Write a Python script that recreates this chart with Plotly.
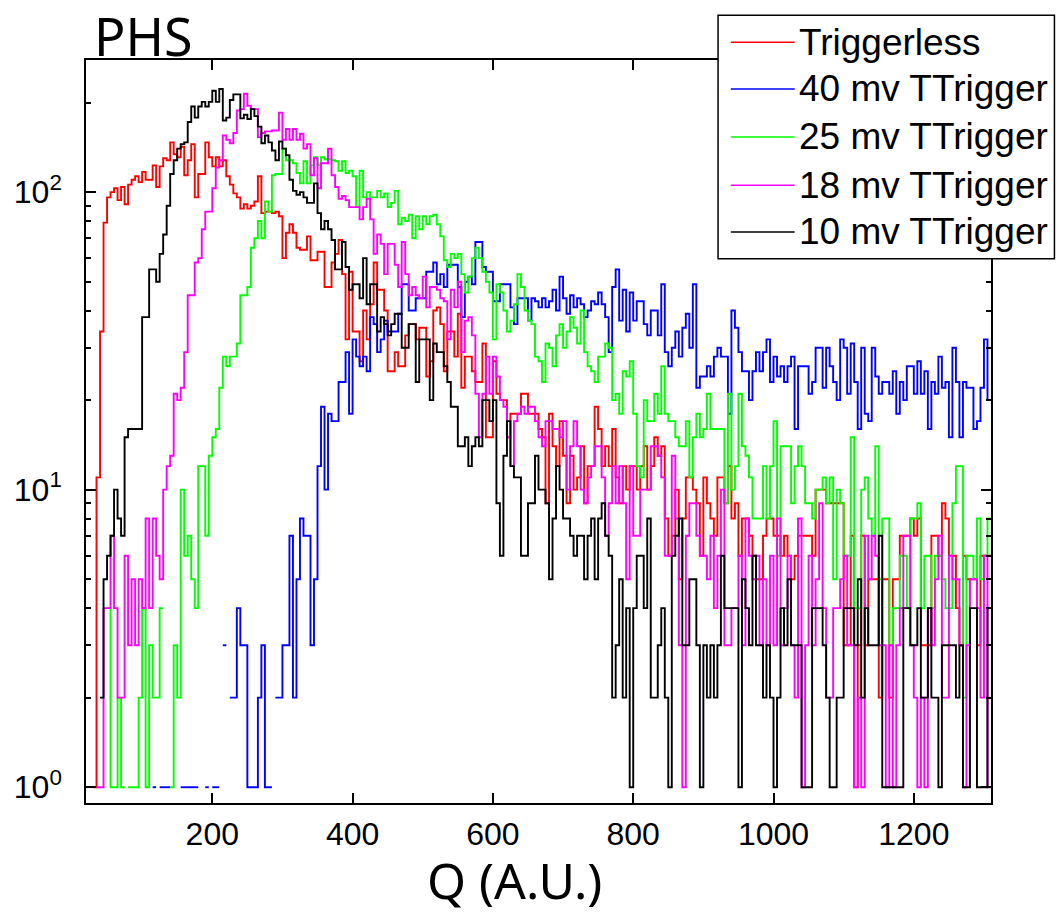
import plotly.graph_objects as go

# ---------------- data (counts per 5-unit bin, first bin starts at Q = 20) ----------------
bin_start = 20
bin_width = 5

triggerless = [
    0, 0, 1, 11, 34, 79, 96, 100, 103, 94,
    104, 91, 106, 110, 113, 108, 117, 110, 110, 123,
    104, 122, 130, 128, 147, 134, 131, 142, 114, 128,
    145, 96, 115, 115, 147, 131, 122, 131, 122, 128,
    113, 106, 99, 96, 88, 91, 88, 90, 93, 113,
    85, 86, 86, 85, 86, 83, 60, 73, 78, 73,
    65, 64, 64, 71, 59, 59, 63, 63, 48, 48,
    58, 62, 69, 53, 32, 54, 34, 34, 27, 40,
    32, 42, 58, 47, 47, 40, 25, 25, 29, 26,
    26, 33, 36, 36, 32, 35, 35, 24, 27, 40,
    41, 36, 25, 34, 34, 28, 39, 22, 28, 28,
    25, 23, 23, 31, 15, 15, 27, 21, 20, 20,
    15, 18, 18, 18, 21, 21, 18, 18, 18, 16,
    15, 9, 18, 14, 12, 17, 13, 9, 13, 10,
    11, 14, 9, 12, 12, 19, 16, 12, 14, 12,
    16, 11, 9, 12, 10, 12, 12, 10, 12, 14,
    10, 12, 15, 13, 14, 8, 6, 7, 10, 5,
    8, 11, 11, 10, 9, 6, 11, 9, 8, 7,
    11, 11, 9, 12, 8, 9, 6, 8, 8, 7,
    6, 5, 5, 7, 8, 8, 7, 7, 6, 7,
    6, 5, 6, 7, 7, 7, 7, 6, 10, 10,
    10, 9, 9, 9, 9, 9, 3, 3, 7, 1,
    3, 7, 3, 5, 5, 5, 2, 5, 5, 2,
    5, 5, 7, 7, 7, 8, 7, 8, 3, 3,
    3, 7, 7, 6, 9, 8, 6, 6, 4, 3,
    6, 5, 5, 5, 3, 6, 6, 6,
]

trig_40mv = [
    0, 0, 0, 0, 0, 0, 0, 0, 0, 0,
    0, 0, 0, 0, 0, 0, 0, 0, 0, 1,
    0, 1, 1, 1, 0, 0, 0, 1, 1, 1,
    1, 1, 0, 0, 1, 0, 1, 1, 0, 3,
    0, 2, 2, 4, 3, 3, 1, 1, 1, 2,
    3, 1, 1, 0, 2, 2, 3, 3, 7, 2,
    5, 8, 7, 7, 3, 5, 12, 19, 10, 18,
    17, 17, 23, 23, 29, 18, 32, 28, 26, 28,
    25, 38, 36, 29, 32, 37, 34, 34, 34, 39,
    49, 49, 40, 40, 44, 44, 44, 54, 54, 58,
    49, 53, 48, 57, 57, 57, 48, 38, 50, 52,
    49, 68, 68, 56, 54, 54, 43, 43, 49, 49,
    49, 41, 36, 44, 44, 44, 37, 44, 43, 41,
    44, 41, 43, 47, 40, 52, 44, 39, 45, 41,
    44, 42, 38, 40, 43, 42, 46, 42, 38, 29,
    48, 55, 37, 47, 34, 46, 37, 43, 43, 36,
    33, 40, 40, 33, 49, 29, 26, 30, 34, 28,
    35, 39, 30, 49, 22, 24, 24, 26, 24, 28,
    30, 28, 28, 18, 40, 35, 29, 25, 25, 20,
    25, 29, 25, 29, 32, 23, 28, 24, 26, 23,
    26, 28, 16, 26, 26, 26, 21, 23, 30, 30,
    22, 30, 26, 23, 20, 32, 30, 21, 31, 23,
    16, 30, 18, 17, 30, 24, 21, 23, 23, 21,
    25, 18, 23, 20, 26, 26, 21, 27, 21, 25,
    16, 23, 21, 28, 22, 23, 15, 30, 23, 15,
    23, 22, 22, 16, 17, 22, 32, 20,
]

trig_25mv = [
    0, 0, 0, 0, 0, 0, 4, 1, 1, 2,
    1, 0, 1, 1, 1, 2, 4, 1, 3, 2,
    2, 4, 0, 0, 1, 3, 2, 10, 6, 7,
    5, 4, 12, 12, 7, 13, 15, 16, 22, 28,
    26, 28, 28, 31, 45, 45, 48, 65, 70, 80,
    70, 93, 86, 114, 115, 115, 140, 128, 128, 125,
    116, 107, 127, 107, 123, 131, 123, 131, 129, 129,
    128, 127, 118, 127, 116, 118, 113, 89, 118, 96,
    100, 96, 96, 101, 96, 99, 89, 92, 101, 78,
    82, 80, 84, 70, 83, 75, 83, 78, 83, 84,
    78, 71, 59, 56, 62, 60, 62, 53, 46, 52,
    60, 65, 60, 54, 50, 46, 32, 49, 46, 40,
    34, 37, 42, 53, 48, 40, 37, 36, 28, 27,
    23, 31, 30, 26, 33, 36, 30, 34, 38, 35,
    31, 40, 29, 26, 25, 23, 28, 28, 31, 30,
    20, 21, 18, 25, 24, 27, 18, 12, 11, 20,
    17, 17, 21, 18, 26, 18, 17, 17, 15, 14,
    14, 17, 11, 15, 18, 15, 16, 21, 16, 16,
    16, 16, 9, 21, 10, 12, 21, 14, 13, 11,
    8, 8, 8, 12, 8, 12, 17, 6, 14, 14,
    14, 9, 12, 14, 12, 9, 9, 8, 10, 10,
    11, 9, 11, 5, 10, 9, 6, 6, 15, 4,
    4, 10, 11, 8, 7, 14, 5, 8, 8, 3,
    4, 4, 6, 6, 4, 8, 8, 9, 4, 6,
    6, 4, 6, 6, 5, 4, 4, 9, 12, 12,
    2, 6, 6, 5, 8, 5, 6, 8,
]

trig_18mv = [
    0, 0, 0, 1, 1, 4, 4, 7, 4, 2,
    2, 6, 3, 5, 3, 5, 4, 8, 4, 8,
    6, 5, 10, 12, 13, 21, 20, 22, 29, 45,
    45, 58, 60, 75, 86, 86, 103, 121, 128, 155,
    150, 146, 158, 188, 190, 214, 195, 190, 190, 153,
    158, 160, 160, 161, 161, 185, 150, 163, 150, 163,
    150, 157, 140, 145, 114, 130, 103, 125, 125, 140,
    114, 104, 95, 97, 94, 89, 89, 89, 81, 89,
    95, 81, 62, 72, 67, 53, 67, 67, 57, 48,
    68, 53, 45, 48, 45, 44, 52, 41, 48, 48,
    47, 44, 43, 32, 47, 41, 50, 29, 37, 38,
    33, 21, 15, 21, 28, 21, 28, 24, 20, 19,
    15, 12, 17, 18, 19, 18, 19, 19, 17, 15,
    14, 17, 17, 16, 16, 15, 17, 10, 14, 17,
    14, 10, 9, 11, 12, 14, 14, 11, 7, 9,
    12, 9, 12, 9, 5, 12, 7, 7, 10, 10,
    10, 14, 14, 13, 11, 6, 6, 13, 8, 3,
    1, 7, 9, 9, 7, 6, 6, 5, 7, 4,
    6, 10, 3, 3, 4, 4, 6, 3, 8, 6,
    5, 6, 3, 5, 3, 6, 3, 8, 3, 4,
    6, 3, 2, 8, 1, 3, 6, 3, 5, 9,
    4, 2, 2, 4, 4, 5, 6, 3, 3, 1,
    2, 1, 7, 5, 7, 6, 3, 3, 1, 3,
    1, 3, 4, 7, 7, 3, 2, 1, 2, 1,
    4, 3, 5, 7, 2, 2, 6, 5, 5, 3,
    1, 3, 5, 5, 4, 2, 6, 1,
]

trig_10mv = [
    0, 0, 0, 0, 2, 5, 6, 7, 10, 8,
    7, 15, 16, 16, 16, 16, 38, 38, 55, 55,
    50, 62, 72, 90, 115, 128, 140, 145, 147, 172,
    194, 178, 194, 201, 194, 201, 219, 201, 222, 174,
    178, 204, 213, 213, 177, 182, 176, 190, 180, 166,
    146, 155, 147, 138, 128, 148, 140, 133, 110, 101,
    98, 100, 96, 92, 92, 107, 85, 75, 80, 75,
    69, 55, 55, 68, 56, 47, 49, 49, 44, 60,
    42, 49, 49, 34, 38, 36, 33, 36, 39, 39,
    30, 30, 36, 36, 23, 32, 32, 32, 20, 31,
    29, 29, 26, 23, 19, 19, 14, 14, 15, 12,
    14, 15, 14, 20, 20, 17, 20, 9, 6, 13,
    17, 12, 11, 11, 6, 6, 9, 9, 13, 10,
    10, 9, 5, 8, 12, 10, 8, 8, 7, 6,
    7, 7, 5, 7, 8, 5, 8, 9, 7, 6,
    2, 3, 5, 2, 4, 1, 4, 6, 6, 4,
    8, 2, 2, 3, 4, 2, 1, 6, 7, 8,
    3, 3, 5, 5, 3, 1, 3, 2, 3, 2,
    3, 6, 4, 4, 4, 4, 1, 5, 4, 3,
    6, 3, 3, 2, 3, 2, 1, 2, 4, 3,
    5, 3, 3, 3, 1, 1, 1, 4, 4, 4,
    3, 2, 1, 1, 2, 2, 4, 4, 4, 3,
    5, 2, 4, 3, 3, 3, 7, 1, 1, 1,
    1, 1, 1, 4, 4, 3, 3, 4, 2, 2,
    4, 2, 2, 1, 3, 3, 3, 3, 2, 3,
    1, 1, 4, 4, 1, 1, 1, 4,
]

series_names = ["Triggerless", "40 mv TTrigger", "25 mv TTrigger",
                "18 mv TTrigger", "10 mv TTrigger"]
series_values = [triggerless, trig_40mv, trig_25mv, trig_18mv, trig_10mv]
series_colors = ["#ff0000", "#0000ff", "#00ff00", "#ff00ff", "#000000"]

x_ticks = [200, 400, 600, 800, 1000, 1200]
y_major = [1, 10, 100]
y_major_text = ["10<sup>0</sup>", "10<sup>1</sup>", "10<sup>2</sup>"]
y_minor = [2, 3, 4, 5, 6, 7, 8, 9, 20, 30, 40, 50, 60, 70, 80, 90, 200]

for v in series_values:
    assert len(v) == 258, len(v)


def outline(counts):
    """ROOT-like histogram outline: empty bins leave a gap."""
    xs, ys = [], []
    for i, c in enumerate(counts):
        lo = bin_start + i * bin_width
        hi = lo + bin_width
        if c > 0:
            xs += [lo, hi]
            ys += [c, c]
        else:
            xs.append(None)
            ys.append(None)
    return xs, ys


fig = go.Figure()
for name, vals, col in zip(series_names, series_values, series_colors):
    xs, ys = outline(vals)
    fig.add_trace(go.Scatter(x=xs, y=ys, mode="lines", name=name,
                             line=dict(color=col, width=1.9),
                             connectgaps=False, showlegend=False,
                             hoverinfo="skip"))

tick_font = dict(family="Liberation Sans, Arial", size=32, color="black")

fig.update_layout(
    width=1057, height=914,
    margin=dict(l=86, r=66, t=60, b=111),
    paper_bgcolor="white", plot_bgcolor="white",
    xaxis=dict(range=[20, 1310], tickmode="array", tickvals=x_ticks,
               ticks="inside", ticklen=10, tickwidth=1.5, tickcolor="black",
               showline=True, linecolor="black", linewidth=1.5, mirror="ticks",
               showgrid=False, zeroline=False, tickfont=tick_font,
               ticklabelstandoff=2),
    yaxis=dict(type="log", range=[-0.053, 2.444], tickmode="array",
               tickvals=y_major, ticktext=y_major_text,
               ticks="inside", ticklen=10, tickwidth=1.5, tickcolor="black",
               showline=True, linecolor="black", linewidth=1.5, mirror="ticks",
               showgrid=False, zeroline=False, tickfont=tick_font,
               ticklabelstandoff=16,
               minor=dict(tickmode="array", tickvals=y_minor, ticks="inside",
                          ticklen=5, tickwidth=1.5, tickcolor="black", showgrid=False)),
)

# Title and axis title
fig.add_annotation(text="PHS", xref="paper", yref="paper", x=0.007, y=1.033,
                   xanchor="left", yanchor="middle", showarrow=False,
                   font=dict(family="Noto Sans, DejaVu Sans", size=52, color="black"))
fig.add_annotation(text="Q (A.U.)", xref="paper", yref="paper", x=0.474, y=-0.104,
                   xanchor="center", yanchor="middle", showarrow=False,
                   font=dict(family="Noto Sans, DejaVu Sans", size=50, color="black"))

# Legend box (drawn manually to match the ROOT legend)
fig.add_shape(type="rect", xref="paper", yref="paper", x0=0.6984, x1=1.0701,
              y0=0.7324, y1=1.0601, line=dict(color="black", width=1.5),
              fillcolor="white", layer="above")
row_y = [1.0239, 0.9611, 0.8965, 0.8313, 0.7686]
for name, col, yy in zip(series_names, series_colors, row_y):
    fig.add_shape(type="line", xref="paper", yref="paper", x0=0.7125, x1=0.7831,
                  y0=yy, y1=yy, line=dict(color=col, width=1.5), layer="above")
    fig.add_annotation(text=name, xref="paper", yref="paper", x=0.7853, y=yy,
                       xanchor="left", yanchor="middle", showarrow=False,
                       font=dict(family="Liberation Sans, Arial", size=37, color="black"))

fig.write_html("out.html", config={"displayModeBar": False},
               post_script="document.body.style.margin='0';")
